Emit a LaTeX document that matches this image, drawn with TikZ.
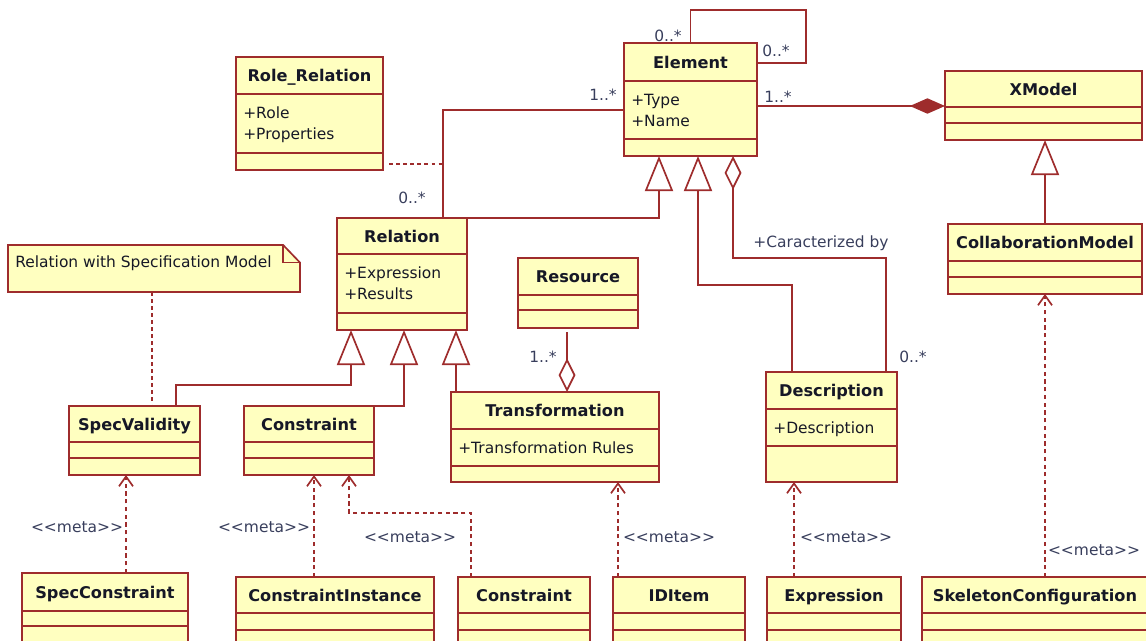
\documentclass[tikz,border=0pt]{standalone}
\usepackage{fontspec}
\setmainfont{DejaVu Sans}
\usetikzlibrary{arrows.meta,fit,positioning}

\definecolor{umlline}{RGB}{158,44,44}
\definecolor{umlfill}{RGB}{255,255,192}
\definecolor{umltext}{RGB}{22,24,38}
\definecolor{umllabel}{RGB}{56,62,92}

\tikzset{
  classbox/.style={draw=umlline, fill=umlfill, line width=1.2pt, inner sep=0pt, outer sep=0pt},
  classsep/.style={draw=umlline, line width=1.2pt},
  classtitle/.style={anchor=base, inner sep=0pt, text=umltext, font=\fontsize{11.5}{14}\selectfont\bfseries},
  classattr/.style={anchor=base west, inner sep=0pt, text=umltext, font=\fontsize{11}{14}\selectfont},
  mult/.style={inner sep=0pt, text=umllabel, font=\fontsize{11}{14}\selectfont},
  assoc/.style={draw=umlline, line width=1.2pt},
  inherit/.style={assoc, -{Triangle[open, length=25pt, width=20pt]}},
  compose/.style={assoc, -{Diamond[length=25pt, width=11pt]}},
  aggreg/.style={assoc, -{Diamond[open, length=24pt, width=12pt]}},
  depend/.style={assoc, dash pattern=on 3pt off 2.5pt, -{Straight Barb[length=7pt, width=10pt]}},
  notelink/.style={assoc, dash pattern=on 2.5pt off 2.5pt},
  notebox/.style={inner sep=0pt, outer sep=0pt},
  notetext/.style={anchor=base west, inner sep=0pt, text=umltext, font=\fontsize{11}{14}\selectfont}
}

% class box: name, left, top, right, bottom, sep1, sep2, title, attributes
\newcommand{\umlclass}[9]{%
  \node[classbox, fit={(#2,#3) (#4,#5)}] (#1) {};
  \draw[classsep] (#1.west |- 0,#6) -- (#1.east |- 0,#6)
                  (#1.west |- 0,#7) -- (#1.east |- 0,#7);
  \node[classtitle] (#1-t) at ({(#2+#4)/2},{(#3+#6)/2+6}) {#8};
  \foreach \attrtext [count=\idx] in {#9}
    \node[classattr] (#1-a\idx) at ({#2+7},{#6+24+21*(\idx-1)}) {\attrtext};
}
\newcommand{\meta}{<{}<meta>{}>}

\begin{document}
\begin{tikzpicture}[x=0.025cm, y=-0.025cm]
  \useasboundingbox (0,0) rectangle (1146,640);
  \clip (0,0) rectangle (1146,640);

  % Classes
  \umlclass{rolerel}{236}{57}{383}{170}{94}{153}{Role\_Relation}{+Role,+Properties}
  \umlclass{element}{624}{43}{757}{156}{81}{139}{Element}{+Type,+Name}
  \umlclass{xmodel}{945}{71}{1142}{140}{107}{123}{XModel}{}
  \umlclass{relation}{337}{218}{467}{330}{254}{313}{Relation}{+Expression,+Results}
  \umlclass{resource}{518}{258}{638}{328}{295}{310}{Resource}{}
  \umlclass{collab}{948}{224}{1142}{294}{261}{277}{CollaborationModel}{}
  \umlclass{description}{766}{372}{897}{482}{409}{446}{Description}{+Description}
  \umlclass{transformation}{451}{392}{659}{482}{429}{466}{Transformation}{+Transformation Rules}
  \umlclass{specvalidity}{69}{406}{200}{475}{442}{458}{SpecValidity}{}
  \umlclass{constraint}{244}{406}{374}{475}{442}{458}{Constraint}{}
  \umlclass{specconstraint}{22}{573}{188}{660}{611}{626}{SpecConstraint}{}
  \umlclass{cinstance}{236}{577}{434}{660}{613}{630}{ConstraintInstance}{}
  \umlclass{constrainttwo}{458}{577}{590}{660}{613}{630}{Constraint}{}
  \umlclass{iditem}{613}{577}{745}{660}{613}{630}{IDItem}{}
  \umlclass{expression}{767}{577}{901}{660}{613}{630}{Expression}{}
  \umlclass{skeleton}{922}{577}{1148}{660}{613}{630}{SkeletonConfiguration}{}

  % Note
  \node[notebox, fit={(8,245) (300,292)}] (note) {};
  \filldraw[classbox] (note.north west) -- ([xshift=-12pt]note.north east)
    -- ([yshift=-12.5pt]note.north east) -- (note.south east) -- (note.south west) -- cycle;
  \draw[classsep] ([xshift=-12pt]note.north east) |- ([yshift=-12.5pt]note.north east);
  \node[notetext] (note-t) at (15,267) {Relation with Specification Model};

  % Generalizations
  \draw[inherit] (relation.north east) -| (659,0 |- element.south);
  \draw[inherit] (792,0 |- description.north) |- (698,285) -- (698,0 |- element.south);
  \draw[inherit] (collab.north) -- (collab.north |- xmodel.south);
  \draw[inherit] (176,0 |- specvalidity.north) |- (351,385) -- (351,0 |- relation.south);
  \draw[inherit] (constraint.north east) -| (404,0 |- relation.south);
  \draw[inherit] (456,0 |- transformation.north) -- (456,0 |- relation.south);

  % Associations
  \draw[assoc] (element.north) |- (806,10) |- (element.east |- 0,63);
  \draw[compose] (element.east |- 0,106) -- (xmodel.west |- 0,106);
  \draw[assoc] (element.west |- 0,110) -| (443,0 |- relation.north);
  \coordinate (acls) at (443,164);
  \draw[notelink] ([xshift=4.5pt]rolerel.east |- acls) -- (acls);
  \draw[aggreg] (886,0 |- description.north) |- (733,258) -- (733,0 |- element.south);
  \draw[aggreg, shorten <=3pt] (567,0 |- resource.south) -- (567,0 |- transformation.north);
  \draw[notelink] (152,0 |- note.south) -- (152,0 |- specvalidity.north);

  % Dependencies
  \draw[depend] (126,0 |- specconstraint.north) -- (126,0 |- specvalidity.south);
  \draw[depend] (314,0 |- cinstance.north) -- (314,0 |- constraint.south);
  \draw[depend] (471,0 |- constrainttwo.north) |- (349,513) -- (349,0 |- constraint.south);
  \draw[depend] (618,0 |- iditem.north) -- (618,0 |- transformation.south);
  \draw[depend] (794,0 |- expression.north) -- (794,0 |- description.south);
  \draw[depend] (collab.south |- skeleton.north) -- (collab.south);

  % Labels
  \node[mult] (m-loopa) at (668,36) {0..*};
  \node[mult] (m-loopb) at (776,51) {0..*};
  \node[mult] (m-comp) at (778,97) {1..*};
  \node[mult] (m-rela) at (603,95) {1..*};
  \node[mult] (m-relb) at (412,198) {0..*};
  \node[mult] (m-res) at (543,357) {1..*};
  \node[mult] (m-desc) at (913,357) {0..*};
  \node[mult] (m-role) at (821,243) {+Caracterized by};
  \node[mult] (meta-a) at (77,527) {\meta};
  \node[mult] (meta-b) at (264,527) {\meta};
  \node[mult] (meta-c) at (410,537) {\meta};
  \node[mult] (meta-d) at (669,537) {\meta};
  \node[mult] (meta-e) at (846,537) {\meta};
  \node[mult] (meta-f) at (1094,550) {\meta};
\end{tikzpicture}
\end{document}
